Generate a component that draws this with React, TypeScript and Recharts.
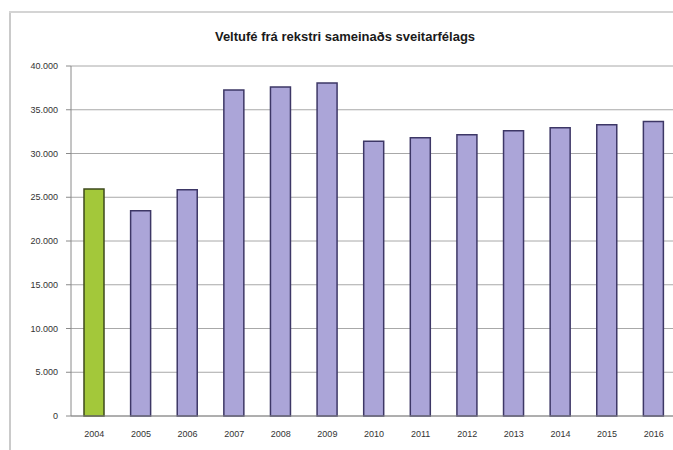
import React from "react"
import { BarChart, Bar, XAxis, YAxis, CartesianGrid, Cell } from "recharts"

const years = ["2004", "2005", "2006", "2007", "2008", "2009", "2010", "2011", "2012", "2013", "2014", "2015", "2016"]
const veltufe = [25950, 23450, 25850, 37250, 37600, 38050, 31400, 31800, 32150, 32600, 32950, 33300, 33650]
const yTicks = [0, 5000, 10000, 15000, 20000, 25000, 30000, 35000, 40000]

const data = years.map((year, i) => ({ year, value: veltufe[i] }))

const fmt = (v: number) => (v === 0 ? "0" : v.toLocaleString("de-DE"))

const font = "'Liberation Sans', Arial, sans-serif"

export default function App() {
  return (
    <div
      style={{
        position: "absolute",
        left: 0,
        top: 0,
        width: 673,
        height: 450,
        overflow: "hidden",
        background: "#ffffff",
        fontFamily: font,
      }}
    >
      {/* frame lines */}
      <div style={{ position: "absolute", left: 9, top: 11, width: 2, height: 439, background: "#cacaca" }} />
      <div style={{ position: "absolute", left: 9, top: 11, width: 664, height: 2, background: "#d4d4d4" }} />
      <div
        style={{
          position: "absolute",
          left: 0,
          top: 29,
          width: 690,
          textAlign: "center",
          fontSize: 13,
          fontWeight: "bold",
          color: "#1a1a1a",
        }}
      >
        Veltufé frá rekstri sameinaðs sveitarfélags
      </div>
      <div style={{ position: "absolute", left: 0, top: 0 }}>
        <BarChart
          width={680}
          height={450}
          data={data}
          margin={{ top: 66, right: 3, bottom: 0, left: 0 }}
          barSize={20}
        >
          <CartesianGrid vertical={false} stroke="#a8a8a8" strokeWidth={1} />
          <XAxis
            dataKey="year"
            height={34}
            tickLine={false}
            axisLine={{ stroke: "#8a8a8a" }}
            tickMargin={9}
            tick={{ fontSize: 9, fill: "#333", fontFamily: font }}
            interval={0}
          />
          <YAxis
            width={71}
            domain={[0, 40000]}
            ticks={yTicks}
            tickFormatter={fmt}
            tickSize={5}
            tickMargin={8}
            axisLine={{ stroke: "#8a8a8a" }}
            tickLine={{ stroke: "#8a8a8a" }}
            tick={{ fontSize: 9, fill: "#333", fontFamily: font }}
          />
          <Bar dataKey="value" isAnimationActive={false} strokeWidth={1.5}>
            {data.map((d, i) => (
              <Cell
                key={d.year}
                fill={i === 0 ? "#a3c83a" : "#aba5d8"}
                stroke={i === 0 ? "#3e4a1c" : "#3d3766"}
              />
            ))}
          </Bar>
        </BarChart>
      </div>
    </div>
  )
}
